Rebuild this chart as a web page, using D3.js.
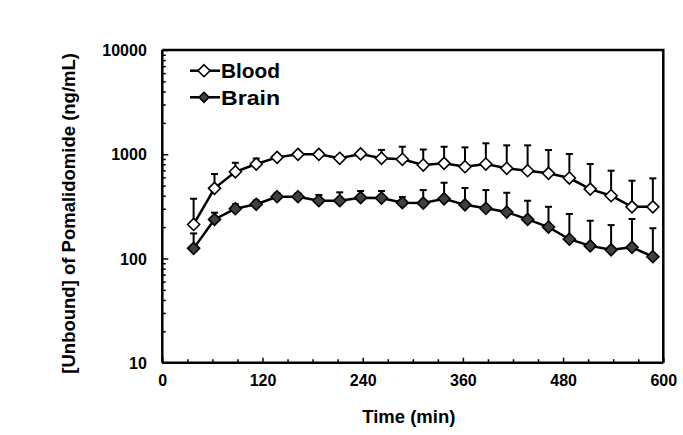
<!DOCTYPE html>
<html>
<head>
<meta charset="utf-8">
<script src="https://cdn.jsdelivr.net/npm/d3@7"></script>
<style>
  html, body { margin: 0; padding: 0; background: #fff; }
  svg { display: block; }
  text { font-family: "Liberation Sans", Arial, sans-serif; font-weight: bold; fill: #000; }
</style>
</head>
<body>
<svg id="chart" width="683" height="435"></svg>
<script>
// Sampling time midpoints (min)
const times = [37.5, 62.5, 87.5, 112.5, 137.5, 162.5, 187.5, 212.5, 237.5, 262.5, 287.5, 312.5,
               337.5, 362.5, 387.5, 412.5, 437.5, 462.5, 487.5, 512.5, 537.5, 562.5, 587.5];
// Unbound blood concentration (ng/mL) and upper error bar end
const bloodMean  = [212, 471, 679, 805, 933, 998, 998, 914, 1007, 914, 894, 788,
                    818, 759, 805, 733, 695, 656, 591, 463, 400, 313, 313];
const bloodUpper = [374, 646, 828, 910, 990, 1050, 1060, 980, 1057, 1100, 1180, 1110,
                    1180, 1164, 1273, 1217, 1217, 1097, 1005, 805, 695, 557, 587];
// Unbound brain concentration (ng/mL) and upper error bar end
const brainMean  = [125, 237, 300, 331, 391, 391, 358, 358, 383, 380, 343, 340,
                    374, 327, 303, 279, 237, 200, 153, 132, 121, 128, 104];
const brainUpper = [174, 275, 331, 360, 420, 420, 406, 431, 444, 444, 388, 453,
                    533, 474, 453, 427, 358, 313, 267, 230, 209, 239, 195];
const xTickLabels = [0, 120, 240, 360, 480, 600];
const yTickLabels = [10, 100, 1000, 10000];
const seriesNames = ["Blood", "Brain"];

const svg = d3.select("#chart");
const pL = 162.3, pR = 663.3, pT = 50, pB = 362.7;

const x = d3.scaleLinear().domain([0, 600]).range([pL, pR]);
const y = d3.scaleLog().domain([10, 10000]).range([pB, pT]);

// Frame (top & right)
svg.append("path")
  .attr("d", `M${pL},${pT}H${pR}V${pB}`)
  .attr("fill", "none").attr("stroke", "#000").attr("stroke-width", 2.5);

// X axis: ticks inward every 30 min
const xMinor = d3.range(0, 601, 30);
const xAxis = d3.axisBottom(x).tickValues(xMinor).tickSizeInner(-3).tickSizeOuter(0)
  .tickFormat(d => xTickLabels.includes(d) ? d : "");
const gx = svg.append("g").attr("transform", `translate(0,${pB})`).call(xAxis);
gx.select(".domain").attr("stroke-width", 2.5).attr("d", `M${pL},0H${pR}`);
gx.selectAll(".tick line").attr("stroke-width", 1.5)
  .attr("y2", d => xTickLabels.includes(d) ? -5 : -3.5);
gx.selectAll(".tick text").attr("font-size", 16).attr("y", 0).attr("dy", 23.5)
  .style("font-family", "'Liberation Sans', Arial, sans-serif").style("font-weight", "bold");

// Y axis: log, minor ticks inward
const yMinor = [];
[10, 100, 1000].forEach(d => { for (let k = 1; k < 10; k++) yMinor.push(d * k); });
yMinor.push(10000);
const yAxis = d3.axisLeft(y).tickValues(yMinor).tickSizeInner(-3).tickSizeOuter(0)
  .tickFormat(d => yTickLabels.includes(d) ? d : "");
const gy = svg.append("g").attr("transform", `translate(${pL},0)`).call(yAxis);
gy.select(".domain").attr("stroke-width", 2.5).attr("d", `M0,${pT}V${pB}`);
gy.selectAll(".tick line").attr("stroke-width", 1.5)
  .attr("x2", d => yTickLabels.includes(d) ? 6 : 3.5);
gy.selectAll(".tick text").attr("font-size", 16).attr("x", -15.5).attr("dy", "0.36em")
  .style("font-family", "'Liberation Sans', Arial, sans-serif").style("font-weight", "bold");

// Axis titles
svg.append("text").attr("x", (pL + pR) / 2 - 4).attr("y", 423)
  .attr("text-anchor", "middle").attr("font-size", 18.5).text("Time (min)");
svg.append("text").attr("transform", `translate(75,${(pT + pB) / 2 + 7}) rotate(-90)`)
  .attr("text-anchor", "middle").attr("font-size", 18.5)
  .text("[Unbound] of Pomalidomide (ng/mL)");

const series = [
  { name: seriesNames[0], mean: bloodMean, upper: bloodUpper, fill: "#fff" },
  { name: seriesNames[1], mean: brainMean, upper: brainUpper, fill: "#404040" }
];
const diamond = s => `M0,${-s}L${s},0L0,${s}L${-s},0Z`;
const line = d3.line().x(d => x(d.t)).y(d => y(d.v));

series.forEach(s => {
  const data = times.map((t, i) => ({ t, v: s.mean[i], u: s.upper[i] }));
  const g = svg.append("g");
  // error bars (upper)
  const eb = g.selectAll(".eb").data(data).enter().append("g");
  eb.append("line").attr("x1", d => x(d.t)).attr("x2", d => x(d.t))
    .attr("y1", d => y(d.v)).attr("y2", d => y(d.u))
    .attr("stroke", "#000").attr("stroke-width", 2);
  eb.append("line").attr("x1", d => x(d.t) - 3.5).attr("x2", d => x(d.t) + 3.5)
    .attr("y1", d => y(d.u)).attr("y2", d => y(d.u))
    .attr("stroke", "#000").attr("stroke-width", 2);
  g.append("path").datum(data).attr("d", line)
    .attr("fill", "none").attr("stroke", "#000").attr("stroke-width", 2.5);
  g.selectAll(".pt").data(data).enter().append("path")
    .attr("transform", d => `translate(${x(d.t)},${y(d.v)})`)
    .attr("d", diamond(6)).attr("fill", s.fill)
    .attr("stroke", "#000").attr("stroke-width", 1.6);
});

// Legend
const legY = [70.7, 97.3];
series.forEach((s, i) => {
  const g = svg.append("g").attr("transform", `translate(0,${legY[i]})`);
  g.append("line").attr("x1", 190).attr("x2", 220).attr("y1", 0).attr("y2", 0)
    .attr("stroke", "#000").attr("stroke-width", 2.5);
  g.append("path").attr("transform", "translate(204,0)").attr("d", diamond(s.fill === "#fff" ? 6 : 5))
    .attr("fill", s.fill).attr("stroke", "#000").attr("stroke-width", 1.6);
  g.append("text").attr("x", 221).attr("y", 7.3).attr("font-size", 19.5)
    .attr("textLength", 59).attr("lengthAdjust", "spacingAndGlyphs").text(s.name);
});
</script>
</body>
</html>
